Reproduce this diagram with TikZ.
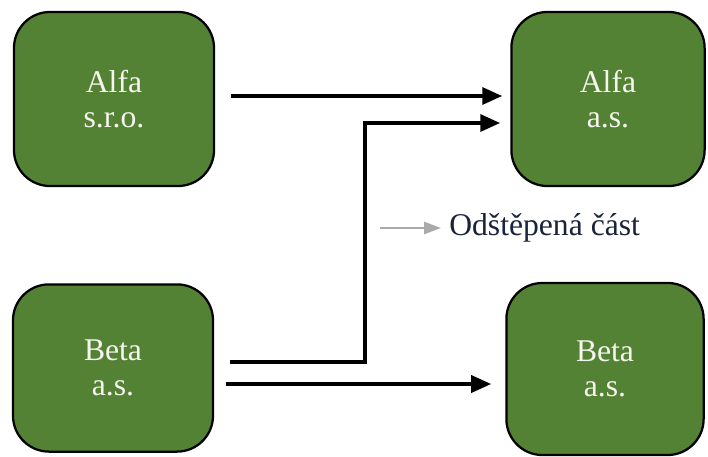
\documentclass[tikz,border=0pt]{standalone}
\usepackage{fontspec}
\setmainfont{Liberation Serif}
\usetikzlibrary{arrows.meta}
\definecolor{firmgreen}{RGB}{84,130,53}
\definecolor{firmtext}{RGB}{246,246,238}
\begin{document}
\begin{tikzpicture}[x=0.025cm,y=0.025cm,line cap=butt,line join=miter,
	firm/.style={draw=black,line width=1.6pt,fill=firmgreen,rounded corners=0.9cm,
		minimum width=5cm,minimum height=4.35cm,align=center,text=firmtext,
		font=\fontsize{22.5}{25}\selectfont},
	flow/.style={line width=2.8pt,-{Triangle[length=0.5cm,width=0.42cm]}},
	part/.style={line width=1.4pt,draw={rgb,255:red,170;green,170;blue,170},
		-{Triangle[length=0.42cm,width=0.3cm]}}]
	\useasboundingbox (0,0) rectangle (708,456);
	\node[firm] (alfaL) at (114,357) {Alfa\\s.r.o.};
	\node[firm,minimum width=4.83cm] (alfaR) at (608,357) {Alfa\\a.s.};
	\node[firm,minimum height=4.18cm] (betaL) at (113,88) {Beta\\a.s.};
	\node[firm,minimum width=4.93cm,minimum height=4.3cm] (betaR) at (605,87) {Beta\\a.s.};
	\coordinate (split) at (365,94);
	\coordinate (legstart) at (380,228);
	\node[anchor=west,inner sep=0pt,font=\fontsize{22.5}{25}\selectfont,
		text={rgb,255:red,25;green,35;blue,60}] (legend) at (449,228) {Odštěpená část};
	\draw[flow] ([xshift=0.4cm,yshift=0.075cm]alfaL.east) -- ([xshift=-0.2cm,yshift=0.075cm]alfaR.west);
	\draw[flow] ([xshift=0.4cm,yshift=0.15cm]betaL.east) -- (split) |- ([xshift=-0.25cm,yshift=-0.6cm]alfaR.west);
	\draw[flow] ([xshift=0.3cm,yshift=-0.4cm]betaL.east) -- ([xshift=-0.35cm,yshift=-0.375cm]betaR.west);
	\draw[part] (legstart) -- ([xshift=-0.2cm]legend.west);
\end{tikzpicture}
\end{document}
